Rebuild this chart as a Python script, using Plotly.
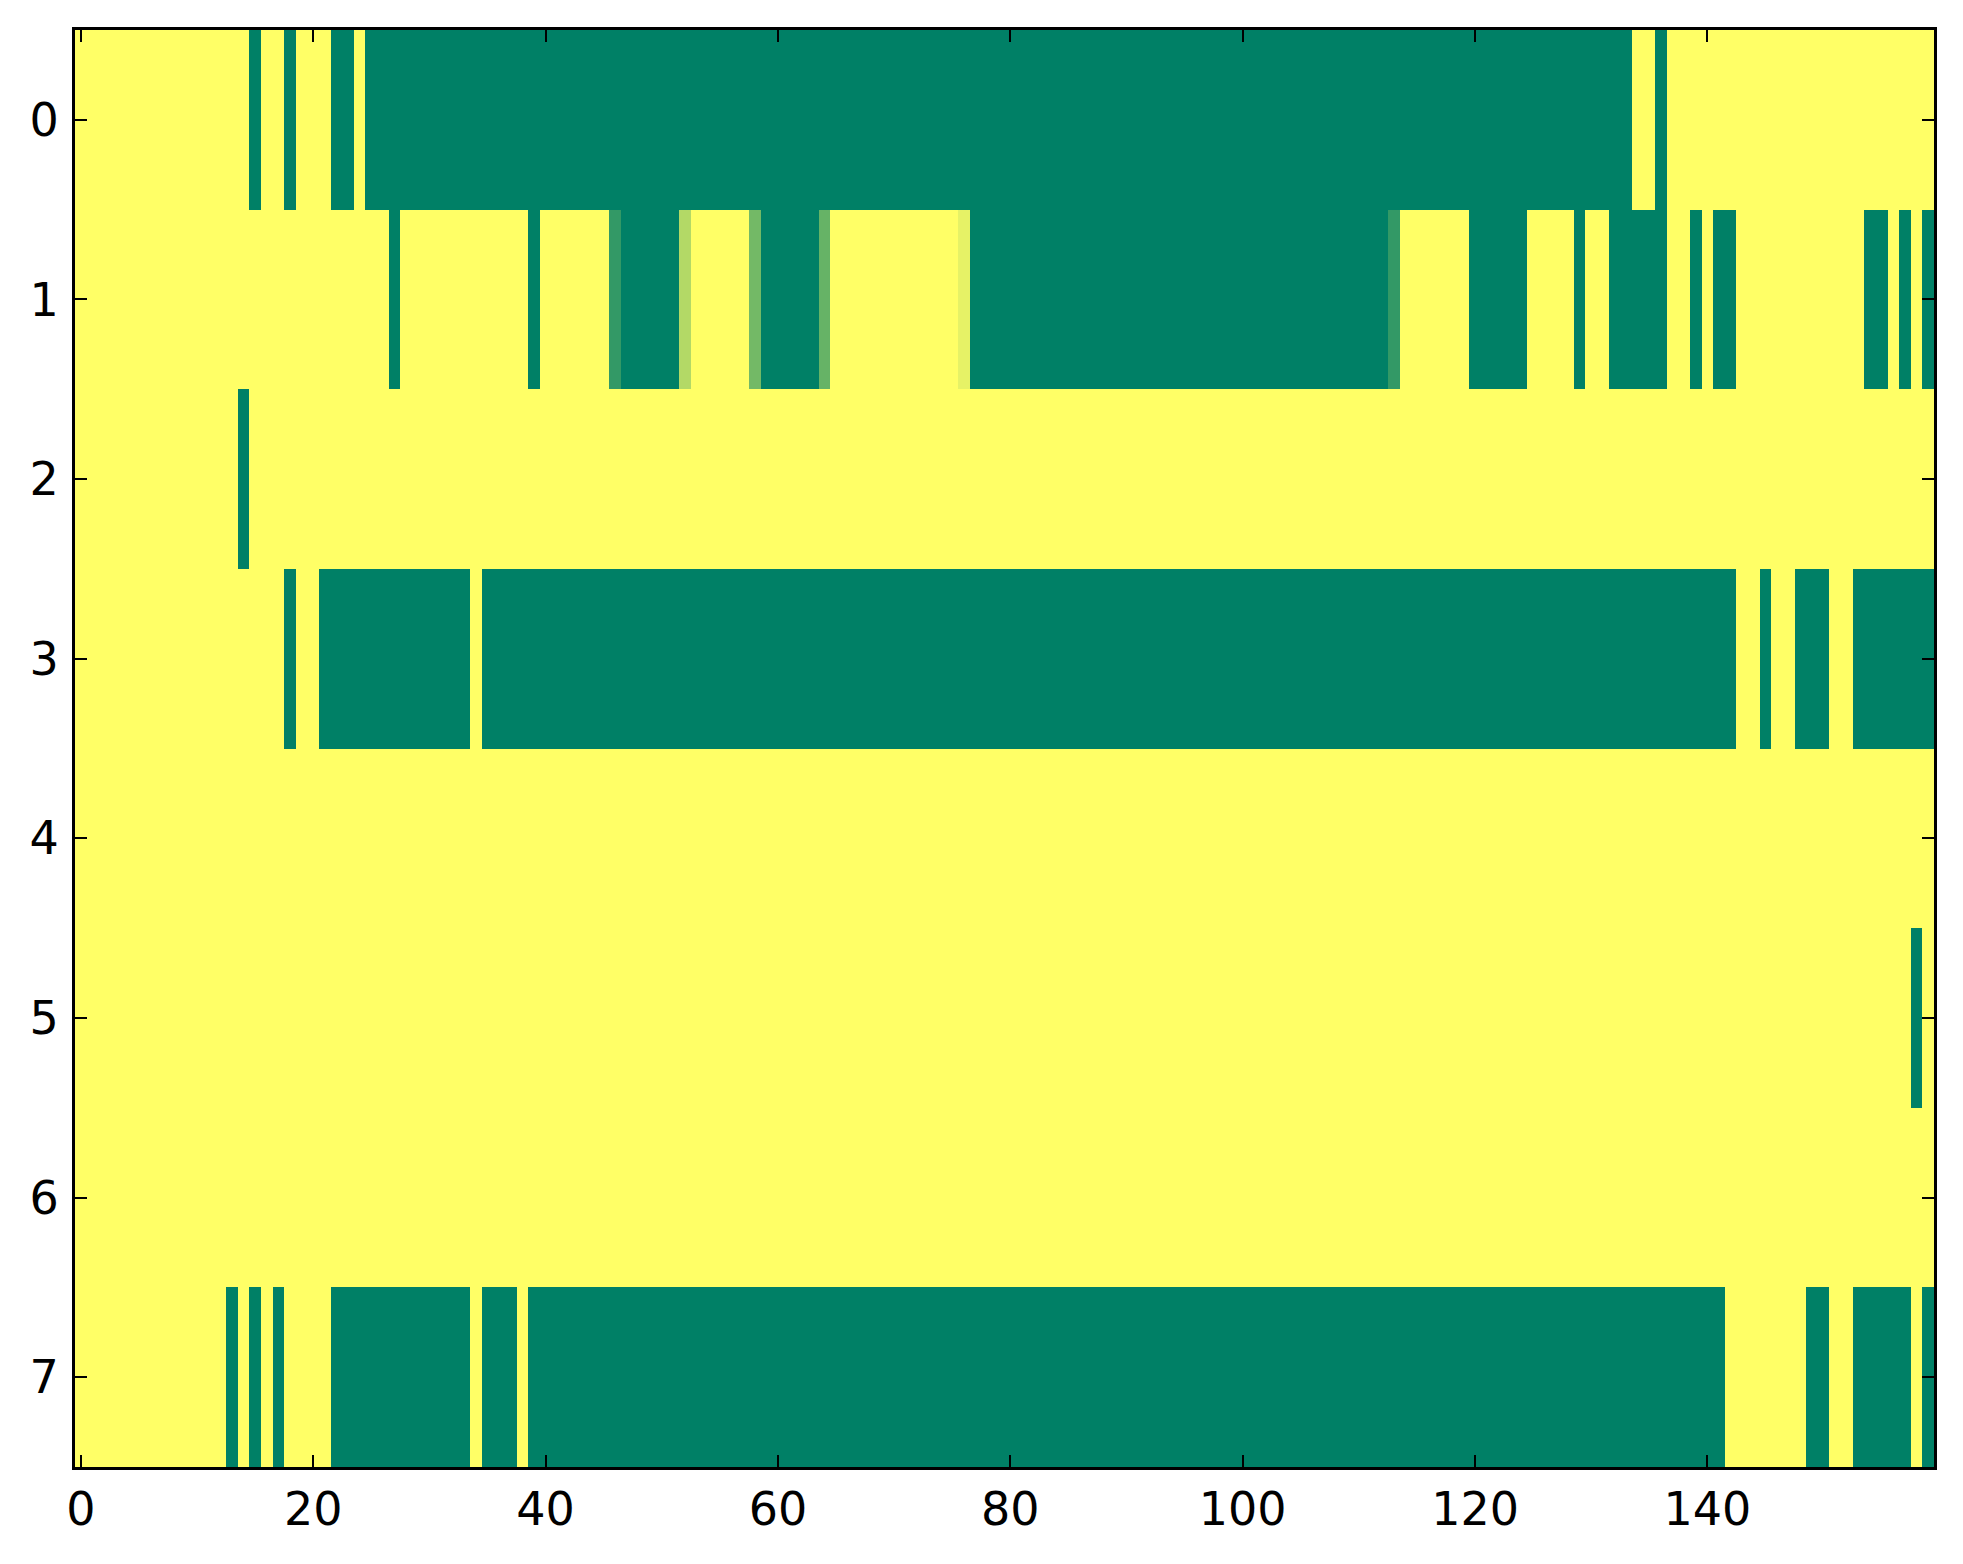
import plotly.graph_objects as go

# Run-length description of each row: (count, value)
# value 1 = yellow, 0 = green, fractions = intermediate shades
row0_runs = [(15, 1), (1, 0), (2, 1), (1, 0), (3, 1), (2, 0), (1, 1), (109, 0), (2, 1), (1, 0), (23, 1)]
row1_runs = [(27, 1), (1, 0), (11, 1), (1, 0), (6, 1), (1, 0.2), (5, 0), (1, 0.7), (5, 1), (1, 0.45),
             (5, 0), (1, 0.4), (11, 1), (1, 0.9), (36, 0), (1, 0.2), (6, 1), (5, 0), (4, 1), (1, 0),
             (2, 1), (5, 0), (2, 1), (1, 0), (1, 1), (2, 0), (11, 1), (2, 0), (1, 1), (1, 0), (1, 1), (1, 0)]
row2_runs = [(14, 1), (1, 0), (145, 1)]
row3_runs = [(18, 1), (1, 0), (2, 1), (13, 0), (1, 1), (108, 0), (2, 1), (1, 0), (2, 1), (3, 0), (2, 1), (7, 0)]
row4_runs = [(160, 1)]
row5_runs = [(158, 1), (1, 0), (1, 1)]
row6_runs = [(160, 1)]
row7_runs = [(13, 1), (1, 0), (1, 1), (1, 0), (1, 1), (1, 0), (4, 1), (12, 0), (1, 1), (3, 0), (1, 1),
             (103, 0), (7, 1), (2, 0), (2, 1), (5, 0), (1, 1), (1, 0)]

rows = [row0_runs, row1_runs, row2_runs, row3_runs, row4_runs, row5_runs, row6_runs, row7_runs]
y_labels = [0, 1, 2, 3, 4, 5, 6, 7]
x_ticks = [0, 20, 40, 60, 80, 100, 120, 140]


def expand(runs):
    out = []
    for n, v in runs:
        out.extend([v] * n)
    return out


z = [expand(r) for r in rows]
n_cols = len(z[0])
x_vals = list(range(n_cols))

summer = [[0.0, "rgb(0,128,102)"], [1.0, "rgb(255,255,102)"]]

fig = go.Figure(go.Heatmap(z=z, x=x_vals, y=y_labels, colorscale=summer, zmin=0, zmax=1,
                           showscale=False, hoverinfo="skip"))

axis_common = dict(showline=True, linecolor="black", linewidth=3, mirror="ticks",
                   ticks="inside", ticklen=12, tickwidth=1.5, tickcolor="black",
                   showgrid=False, zeroline=False,
                   tickfont=dict(family="DejaVu Sans", size=46, color="black"))

fig.update_xaxes(range=[-0.5, n_cols - 0.5], tickmode="array", tickvals=x_ticks,
                 ticktext=[str(t) for t in x_ticks], ticklabelstandoff=0, **axis_common)
fig.update_yaxes(range=[7.5, -0.5], tickmode="array", tickvals=y_labels,
                 ticktext=[str(t) for t in y_labels], ticklabelstandoff=4, **axis_common)

fig.update_layout(width=1963, height=1564, margin=dict(l=67, r=37, t=22, b=105),
                  paper_bgcolor="white", plot_bgcolor="white")

fig.write_html("out.html")
